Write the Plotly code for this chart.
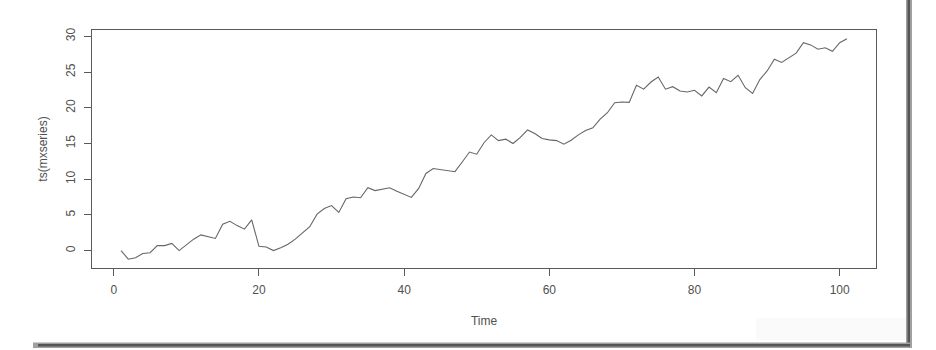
import plotly.graph_objects as go

# Time index and series values
time = list(range(1, 102))
mxseries = [
    0.0, -1.2, -1.0, -0.4, -0.3, 0.7, 0.7, 1.0, 0.0, 0.75,
    1.6, 2.2, 2.0, 1.7, 3.7, 4.1, 3.5, 3.0, 4.3, 0.6,
    0.5, 0.0, 0.4, 0.9, 1.6, 2.5, 3.35, 5.1, 5.9, 6.3,
    5.35, 7.25, 7.5, 7.4, 8.8, 8.4, 8.55, 8.8, 8.3, 7.9,
    7.45, 8.7, 10.8, 11.5, 11.35, 11.25, 11.05, 12.4, 13.8, 13.5,
    15.1, 16.2, 15.4, 15.6, 15.0, 15.85, 16.9, 16.4, 15.7, 15.5,
    15.4, 14.9, 15.45, 16.2, 16.8, 17.2, 18.4, 19.3, 20.7, 20.8,
    20.75, 23.15, 22.6, 23.6, 24.3, 22.6, 22.95, 22.35, 22.2, 22.45,
    21.65, 22.9, 22.1, 24.1, 23.65, 24.55, 22.8, 22.0, 23.95, 25.15,
    26.8, 26.35, 27.0, 27.65, 29.1, 28.8, 28.2, 28.4, 27.9, 29.1,
    29.65,
]
x_ticks = [0, 20, 40, 60, 80, 100]
y_ticks = [0, 5, 10, 15, 20, 25, 30]

# R-style 4% axis extension
def ext(vals):
    lo, hi = min(vals), max(vals)
    d = (hi - lo) * 0.04
    return [lo - d, hi + d]

FONT = "Liberation Sans, Arial, sans-serif"
AX = "#5a5a5a"
TXT = "#505050"

fig = go.Figure()
fig.add_trace(go.Scatter(
    x=time, y=mxseries, mode="lines",
    line=dict(color="#666666", width=1.1),
    showlegend=False, hoverinfo="x+y",
))

L, R, T, B = 92, 60, 30, 82
W, H = 936, 350
pw, ph = W - L - R, H - T - B

def px(xp):
    return (xp - L) / pw

def py(yp):
    return (H - B - yp) / ph

shapes = [
    # faint gray band near the bottom right of the screenshot
    dict(type="rect", xref="paper", yref="paper", x0=px(756), x1=px(906),
         y0=py(340), y1=py(318), fillcolor="#fafafa", line=dict(width=0), layer="below"),
    # drop-shadow frame: right edge
    dict(type="rect", xref="paper", yref="paper", x0=px(906), x1=px(912),
         y0=py(348), y1=py(-5), fillcolor="#a0a0a0", line=dict(width=0)),
    dict(type="rect", xref="paper", yref="paper", x0=px(907.5), x1=px(910),
         y0=py(347), y1=py(-5), fillcolor="#555555", line=dict(width=0)),
    # drop-shadow frame: bottom edge
    dict(type="rect", xref="paper", yref="paper", x0=px(33), x1=px(912),
         y0=py(348), y1=py(342.5), fillcolor="#a0a0a0", line=dict(width=0)),
    dict(type="rect", xref="paper", yref="paper", x0=px(38), x1=px(910),
         y0=py(346.5), y1=py(344), fillcolor="#555555", line=dict(width=0)),
]

fig.update_layout(
    width=W, height=H,
    margin=dict(l=L, r=R, t=T, b=B, autoexpand=False),
    paper_bgcolor="white", plot_bgcolor="white",
    font=dict(family=FONT, size=12, color=TXT),
    shapes=shapes,
    xaxis=dict(
        range=ext(time), tickmode="array", tickvals=x_ticks,
        showgrid=False, zeroline=False,
        showline=True, mirror=True, linecolor=AX, linewidth=1,
        ticks="outside", ticklen=7, tickcolor=AX, tickwidth=1,
        tickfont=dict(family=FONT, size=12, color=TXT),
        ticklabelstandoff=4,
        title=dict(text="Time", font=dict(family=FONT, size=12, color=TXT), standoff=20),
        automargin=False,
    ),
    yaxis=dict(
        range=ext(mxseries), tickmode="array", tickvals=y_ticks,
        showgrid=False, zeroline=False,
        showline=True, mirror=True, linecolor=AX, linewidth=1,
        ticks="outside", ticklen=7, tickcolor=AX, tickwidth=1,
        tickangle=-90,
        tickfont=dict(family=FONT, size=12, color=TXT),
        ticklabelstandoff=4,
        title=dict(text="ts(mxseries)", font=dict(family=FONT, size=12, color=TXT), standoff=14),
        automargin=False,
    ),
)

fig.write_html("out.html")
